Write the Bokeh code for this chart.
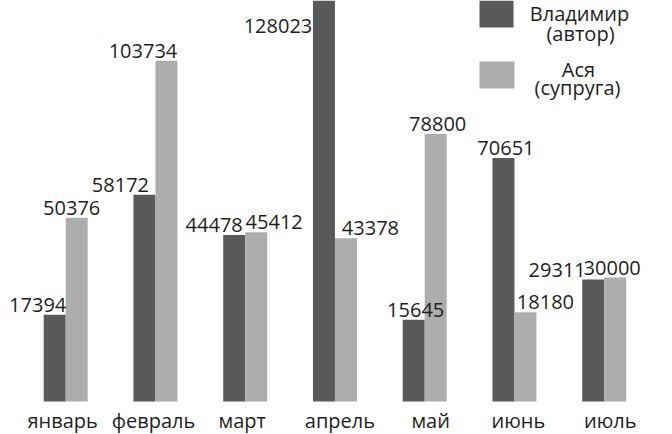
from bokeh.plotting import figure
from bokeh.models import Range1d, ColumnDataSource
from bokeh.core.properties import value
from bokeh.embed import file_html
from bokeh.resources import INLINE

# ---- data ----
months = ["январь", "февраль", "март", "апрель", "май", "июнь", "июль"]
vladimir = [17394, 58172, 44478, 128023, 15645, 70651, 29311]
asya = [50376, 103734, 45412, 43378, 78800, 18180, 30000]
legend_vladimir = ["Владимир", "(автор)"]
legend_asya = ["Ася", "(супруга)"]

# ---- label placement (screen px offsets, like the reference's anti-overlap layout) ----
vlad_dx = [-17, -24, -20, -46, 2, 2.5, -36]
vlad_dy = [-10, -10, -10, 37, -10, -10, -10]
asya_dx = [-5, -23.5, 18, 24.5, 2, 20, -3]
asya_dy = [-10, -10, -10, -10, -10, -10, -10]
month_dx = [-3, -2, -3, 5, 6, 4, 6]

DARK = "#595959"
LIGHT = "#adadad"
TXT = "#1e1e1e"
FONT = value("Open Sans")

W, H = 672, 434
PX_X = 89.75          # px per month group
X0 = -65.2 / PX_X
X1 = X0 + W / PX_X
Y_PER_PX = 340.1
BASE = -12143
Y1 = BASE + 401 * Y_PER_PX
Y0 = Y1 - H * Y_PER_PX
BW = 0.245


def sx(px):
    return X0 + px / PX_X


def sy(py):
    return Y1 - py * Y_PER_PX


p = figure(width=W, height=H, x_range=Range1d(X0, X1), y_range=Range1d(Y0, Y1),
           x_axis_type=None, y_axis_type=None, output_backend="svg",
           toolbar_location=None, min_border=0)
p.outline_line_color = None
p.background_fill_color = "white"
p.border_fill_color = "white"

idx = list(range(len(months)))
xd = [i - BW / 2 for i in idx]
xl = [i + BW / 2 for i in idx]

p.vbar(x=xd, width=BW, top=vladimir, bottom=BASE, fill_color=DARK, line_color=None)
p.vbar(x=xl, width=BW, top=asya, bottom=BASE, fill_color=LIGHT, line_color=None)

src_v = ColumnDataSource(dict(x=xd, y=vladimir, t=[str(v) for v in vladimir], dx=vlad_dx, dy=vlad_dy))
src_a = ColumnDataSource(dict(x=xl, y=asya, t=[str(v) for v in asya], dx=asya_dx, dy=asya_dy))
for src in (src_v, src_a):
    p.text(x="x", y="y", text="t", x_offset="dx", y_offset="dy", source=src,
           text_align="center", text_baseline="alphabetic",
           text_font=FONT, text_font_size="20px", text_color=TXT)

# month labels
src_m = ColumnDataSource(dict(x=idx, y=[BASE] * len(idx), t=months, dx=month_dx))
p.text(x="x", y="y", text="t", x_offset="dx", y_offset=19, source=src_m,
       text_align="center", text_baseline="alphabetic",
       text_font=FONT, text_font_size="20px", text_color=TXT)

# legend
p.quad(left=[sx(479), sx(479)], right=[sx(513), sx(514)],
       top=[sy(0), sy(61)], bottom=[sy(27), sy(88)],
       fill_color=[DARK, LIGHT], line_color=None)
p.text(x=[sx(579), sx(580)], y=[sy(13), sy(33)], text=legend_vladimir,
       text_align="center", text_baseline="alphabetic",
       text_font=FONT, text_font_size="20px", text_color=TXT)
p.text(x=[sx(578), sx(577)], y=[sy(69), sy(87)], text=legend_asya,
       text_align="center", text_baseline="alphabetic",
       text_font=FONT, text_font_size="20px", text_color=TXT)

open("out.html", "w").write(file_html(p, INLINE))
